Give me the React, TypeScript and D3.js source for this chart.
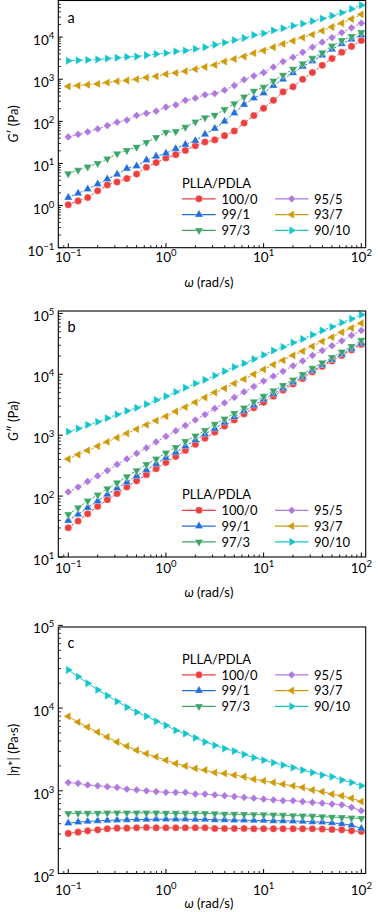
import React from 'react';
import * as d3 from 'd3';

const omega = [0.1, 0.126, 0.158, 0.2, 0.251, 0.316, 0.398, 0.501, 0.631, 0.794, 1, 1.26, 1.58, 2, 2.51, 3.16, 3.98, 5.01, 6.31, 7.94, 10, 12.6, 15.8, 20, 25.1, 31.6, 39.8, 50.1, 63.1, 79.4, 100];

const seriesNames = ['100/0', '99/1', '97/3', '95/5', '93/7', '90/10'];
const colors = ['#ee3f3f', '#1f6fdc', '#3aa567', '#b079e0', '#cf9a08', '#13c4cb'];
const markerTypes = ['circle', 'up', 'down', 'diamond', 'left', 'right'];
const legendTitle = 'PLLA/PDLA';

// Panel a: G' (Pa)
const gp100_0 = [1.05, 1.29, 1.55, 2.24, 3.09, 3.63, 4.37, 5.62, 8.13, 10.5, 13.5, 16.2, 20.4, 26.3, 32.4, 36.3, 45.7, 58.9, 91.2, 138, 204, 316, 501, 661, 1000, 1445, 2138, 3090, 4365, 6026, 8318];
const gp99_1 = [1.55, 1.95, 2.45, 3.24, 4.27, 5.5, 7.59, 8.71, 12.0, 14.8, 17.4, 22.4, 28.2, 34.7, 49.0, 67.6, 100, 158, 251, 355, 468, 708, 1000, 1413, 1995, 2692, 3715, 5129, 6918, 8913, 11220];
const gp97_3 = [5.75, 6.92, 8.32, 10.0, 12.9, 17.0, 20.4, 24.5, 31.6, 41.7, 55.0, 57.5, 72.4, 97.7, 123, 141, 191, 263, 380, 525, 646, 912, 1259, 1738, 2344, 3162, 4266, 6166, 8318, 10470, 12880];
const gp95_5 = [42.7, 49.0, 56.2, 66.1, 79.4, 95.5, 107, 138, 155, 174, 219, 245, 316, 355, 427, 457, 550, 708, 977, 1202, 1445, 1950, 2630, 3311, 4365, 5754, 7586, 9772, 12880, 16600, 21380];
const gp93_7 = [676, 708, 741, 776, 832, 891, 933, 1000, 1096, 1175, 1318, 1413, 1549, 1738, 1950, 2188, 2630, 3020, 3467, 4169, 4786, 5754, 6918, 8128, 9772, 11480, 14130, 17380, 21380, 26920, 34670];
const gp90_10 = [2754, 2818, 2884, 2951, 3090, 3236, 3388, 3467, 3715, 3981, 4169, 4571, 4786, 5248, 5754, 6607, 7413, 8511, 9550, 11220, 12300, 14450, 16220, 18620, 20890, 23990, 27540, 32360, 38020, 46770, 57540];

// Panel b: G'' (Pa)
const gpp100_0 = [30.2, 38.9, 51.3, 67.6, 87.1, 110, 141, 178, 224, 282, 355, 447, 562, 708, 891, 1122, 1413, 1778, 2239, 2818, 3467, 4365, 5495, 6918, 8511, 10960, 13490, 16600, 20420, 25120, 30900];
const gpp99_1 = [39.8, 50.1, 64.6, 83.2, 107, 135, 170, 214, 269, 339, 427, 525, 661, 832, 1047, 1288, 1622, 1995, 2512, 3090, 3890, 4786, 5888, 7413, 9120, 11480, 14130, 17380, 21380, 26300, 32360];
const gpp97_3 = [50.1, 64.6, 83.2, 105, 132, 166, 209, 263, 331, 407, 513, 631, 794, 977, 1202, 1514, 1862, 2291, 2818, 3548, 4365, 5370, 6607, 8128, 10000, 12590, 15490, 19050, 23440, 28840, 36310];
const gpp95_5 = [117, 141, 174, 214, 263, 331, 407, 501, 617, 776, 955, 1175, 1445, 1778, 2188, 2754, 3388, 4169, 5129, 6310, 7762, 9333, 11220, 13800, 16600, 20420, 24550, 29510, 35480, 43650, 52480];
const gpp93_7 = [407, 479, 562, 661, 776, 912, 1072, 1259, 1479, 1738, 2042, 2455, 2884, 3467, 4169, 5012, 5888, 7079, 8318, 10000, 12020, 14450, 16980, 20420, 23990, 28840, 34670, 40740, 48980, 57540, 69180];
const gpp90_10 = [1148, 1288, 1479, 1660, 1905, 2188, 2512, 2818, 3236, 3802, 4365, 5129, 6026, 7079, 8128, 9550, 11220, 13180, 15140, 17780, 20890, 24550, 28180, 33110, 38020, 44670, 52480, 60260, 70790, 81280, 95500];

// Panel c: |eta*| (Pa·s)
const eta100_0 = [305, 316, 328, 337, 347, 353, 353, 357, 360, 357, 357, 357, 357, 357, 357, 350, 350, 350, 350, 347, 347, 347, 347, 347, 347, 347, 344, 340, 337, 328, 322];
const eta99_1 = [406, 418, 426, 434, 438, 442, 446, 450, 450, 454, 454, 454, 454, 450, 450, 446, 446, 442, 442, 438, 438, 434, 434, 430, 426, 422, 418, 410, 399, 385, 350];
const eta97_3 = [532, 535, 537, 537, 540, 542, 542, 542, 540, 540, 537, 535, 535, 532, 532, 530, 523, 520, 518, 516, 513, 511, 506, 502, 498, 494, 487, 480, 476, 469, 463];
const eta95_5 = [1259, 1230, 1175, 1148, 1122, 1096, 1047, 1023, 1000, 977, 955, 955, 955, 912, 912, 891, 871, 851, 832, 813, 794, 776, 759, 759, 741, 724, 708, 692, 676, 631, 575];
const eta93_7 = [7943, 6761, 5888, 5129, 4467, 3890, 3467, 3090, 2818, 2570, 2344, 2138, 1995, 1862, 1778, 1660, 1622, 1549, 1479, 1380, 1318, 1259, 1202, 1148, 1096, 1023, 977, 912, 871, 813, 741];
const eta90_10 = [28840, 23990, 19950, 16600, 14130, 12020, 10230, 8913, 7943, 6918, 6166, 5370, 4898, 4365, 3890, 3548, 3236, 3020, 2754, 2512, 2344, 2188, 2042, 1905, 1778, 1660, 1549, 1479, 1349, 1259, 1148];

const xMajorExps = [-1, 0, 1, 2];
const FONT = "Lato, 'Open Sans', sans-serif";

const W = 378;
const H = 912;
const LEFT = 58.3;
const RIGHT = 365.7;

function markerPath(type: string) {
  if (type === 'circle') return { d: d3.symbol().type(d3.symbolCircle).size(40)() as string, rot: 0 };
  if (type === 'diamond') return { d: d3.symbol().type(d3.symbolSquare).size(30)() as string, rot: 45 };
  const d = d3.symbol().type(d3.symbolTriangle).size(30)() as string;
  const rot = type === 'up' ? 0 : type === 'down' ? 180 : type === 'left' ? -90 : 90;
  return { d, rot };
}

function Marker({ type, x, y, color }: { type: string; x: number; y: number; color: string }) {
  const m = markerPath(type);
  return (
    <path
      d={m.d}
      transform={`translate(${x},${y}) rotate(${m.rot})`}
      fill={color}
      stroke="#ffffff"
      strokeOpacity={0.55}
      strokeWidth={0.6}
    />
  );
}

type PanelProps = {
  top: number;
  bottom: number;
  yMin: number;
  yMax: number;
  yMajorExps: number[];
  data: number[][];
  dashed: boolean;
  letter: string;
  letterY: number;
  ylabel: React.ReactNode;
  ylabelY: number;
  legendTop: number;
  xTickBase: number;
  xTitleBase: number;
};

function Panel(p: PanelProps) {
  const x = d3.scaleLog().domain([Math.pow(10, -1.102), Math.pow(10, 2.045)]).range([LEFT, RIGHT]);
  const y = d3.scaleLog().domain([p.yMin, p.yMax]).range([p.bottom, p.top]);
  const line = d3
    .line<[number, number]>()
    .x((d) => x(d[0]))
    .y((d) => y(d[1]));

  const xMinor: number[] = [];
  for (let e = -2; e <= 2; e++) {
    for (let k = 2; k <= 9; k++) {
      const v = k * Math.pow(10, e);
      const px = x(v);
      if (px > LEFT + 1.5 && px < RIGHT - 1.5) xMinor.push(v);
    }
  }
  const yMinor: number[] = [];
  for (let e = -2; e <= 5; e++) {
    for (let k = 2; k <= 9; k++) {
      const v = k * Math.pow(10, e);
      const py = y(v);
      if (py < p.bottom - 1.5 && py > p.top + 1.5) yMinor.push(v);
    }
  }

  const legendRows = [p.legendTop + 15.8, p.legendTop + 31.6, p.legendTop + 47.4];
  const legendCols = [
    { x0: 182, x1: 215.7, mx: 199, tx: 221.5 },
    { x0: 275, x1: 308.5, mx: 291.7, tx: 314 },
  ];

  return (
    <g>
      {p.data.map((vals, si) => (
        <path
          key={'l' + si}
          d={line(omega.map((w, i) => [w, vals[i]] as [number, number])) as string}
          fill="none"
          stroke={colors[si]}
          strokeWidth={1}
          strokeDasharray={p.dashed ? '2.6,1.6' : undefined}
        />
      ))}
      {p.data.map((vals, si) => (
        <g key={'m' + si}>
          {omega.map((w, i) => (
            <Marker key={i} type={markerTypes[si]} x={x(w)} y={y(vals[i])} color={colors[si]} />
          ))}
        </g>
      ))}

      <rect x={LEFT} y={p.top} width={RIGHT - LEFT} height={p.bottom - p.top} fill="none" stroke="#000" strokeWidth={1.1} />

      {xMajorExps.map((e) => (
        <line key={'xM' + e} x1={x(Math.pow(10, e))} x2={x(Math.pow(10, e))} y1={p.bottom} y2={p.bottom - 4.5} stroke="#000" strokeWidth={1} />
      ))}
      {xMinor.map((v, i) => (
        <line key={'xm' + i} x1={x(v)} x2={x(v)} y1={p.bottom} y2={p.bottom - 2.5} stroke="#000" strokeWidth={0.9} />
      ))}
      {xMajorExps.map((e) => (
        <text key={'xl' + e} x={x(Math.pow(10, e))} y={p.xTickBase} textAnchor="middle" fontFamily={FONT} fontSize={13.5} fill="#000">
          10
          <tspan dy={-6} fontSize={9.5}>
            {e < 0 ? '\u2212' + Math.abs(e) : String(e)}
          </tspan>
        </text>
      ))}

      {p.yMajorExps.map((e) => (
        <line key={'yM' + e} x1={LEFT} x2={LEFT + 4.5} y1={y(Math.pow(10, e))} y2={y(Math.pow(10, e))} stroke="#000" strokeWidth={1} />
      ))}
      {yMinor.map((v, i) => (
        <line key={'ym' + i} x1={LEFT} x2={LEFT + 2.5} y1={y(v)} y2={y(v)} stroke="#000" strokeWidth={0.9} />
      ))}
      {p.yMajorExps.map((e) => (
        <text key={'yl' + e} x={LEFT - 4} y={y(Math.pow(10, e)) + 8} textAnchor="end" fontFamily={FONT} fontSize={13.5} fill="#000">
          10
          <tspan dy={-6} fontSize={9.5}>
            {e < 0 ? '\u2212' + Math.abs(e) : String(e)}
          </tspan>
        </text>
      ))}

      <text x={67.5} y={p.letterY} fontFamily={FONT} fontSize={14.5} fill="#000">
        {p.letter}
      </text>

      <text x={209} y={p.xTitleBase} textAnchor="middle" fontFamily={FONT} fontSize={13} fill="#000">
        <tspan fontStyle="italic">ω</tspan> (rad/s)
      </text>
      <text
        transform={`translate(18,${p.ylabelY}) rotate(-90)`}
        textAnchor="middle"
        fontFamily={FONT}
        fontSize={13}
        fill="#000"
      >
        {p.ylabel}
      </text>

      <text x={182} y={p.legendTop + 4.7} fontFamily={FONT} fontSize={13} fill="#000">
        {legendTitle}
      </text>
      {seriesNames.map((name, si) => {
        const col = legendCols[Math.floor(si / 3)];
        const ry = legendRows[si % 3];
        return (
          <g key={'lg' + si}>
            <line x1={col.x0} x2={col.x1} y1={ry} y2={ry} stroke={colors[si]} strokeWidth={1.2} />
            <Marker type={markerTypes[si]} x={col.mx} y={ry} color={colors[si]} />
            <text x={col.tx} y={ry + 4.7} fontFamily={FONT} fontSize={13} fill="#000">
              {name}
            </text>
          </g>
        );
      })}
    </g>
  );
}

export default function App() {
  return (
    <svg
      width={W}
      height={H}
      viewBox={`0 0 ${W} ${H}`}
      style={{ position: 'absolute', left: 0, top: 0, background: '#fff', display: 'block' }}
    >
      <rect x={0} y={0} width={W} height={H} fill="#fff" />
      <Panel
        top={0.5}
        bottom={247.7}
        yMin={0.1}
        yMax={Math.pow(10, 4.87)}
        yMajorExps={[-1, 0, 1, 2, 3, 4]}
        data={[gp100_0, gp99_1, gp97_3, gp95_5, gp93_7, gp90_10]}
        dashed={true}
        letter="a"
        letterY={23}
        ylabel={
          <>
            <tspan fontStyle="italic">G</tspan>′ (Pa)
          </>
        }
        ylabelY={124}
        legendTop={183}
        xTickBase={262}
        xTitleBase={287}
      />
      <Panel
        top={311}
        bottom={557}
        yMin={10}
        yMax={Math.pow(10, 5.04)}
        yMajorExps={[1, 2, 3, 4, 5]}
        data={[gpp100_0, gpp99_1, gpp97_3, gpp95_5, gpp93_7, gpp90_10]}
        dashed={true}
        letter="b"
        letterY={332}
        ylabel={
          <>
            <tspan fontStyle="italic">G</tspan>″ (Pa)
          </>
        }
        ylabelY={421}
        legendTop={494.5}
        xTickBase={573}
        xTitleBase={597}
      />
      <Panel
        top={627}
        bottom={873.5}
        yMin={100}
        yMax={Math.pow(10, 4.98)}
        yMajorExps={[2, 3, 4, 5]}
        data={[eta100_0, eta99_1, eta97_3, eta95_5, eta93_7, eta90_10]}
        dashed={false}
        letter="c"
        letterY={648}
        ylabel={
          <>
            |<tspan fontStyle="italic">η</tspan>*| (Pa·s)
          </>
        }
        ylabelY={750}
        legendTop={659}
        xTickBase={895}
        xTitleBase={908}
      />
    </svg>
  );
}
